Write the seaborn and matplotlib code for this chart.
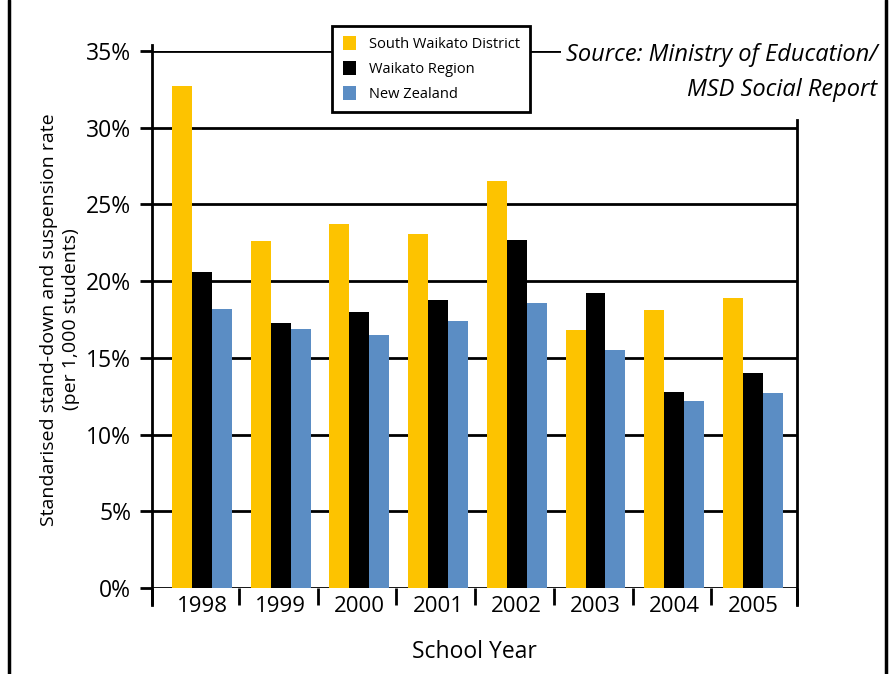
import matplotlib
matplotlib.use("Agg")
import matplotlib.pyplot as plt
import numpy as np
import pandas as pd
import seaborn as sns
from matplotlib.lines import Line2D
from matplotlib.patches import Patch

years = ["1998", "1999", "2000", "2001", "2002", "2003", "2004", "2005"]
series = ["South Waikato District", "Waikato Region", "New Zealand"]
south_waikato = [32.7, 22.6, 23.7, 23.1, 26.5, 16.8, 18.1, 18.9]
waikato_region = [20.6, 17.3, 18.0, 18.8, 22.7, 19.2, 12.8, 14.0]
new_zealand = [18.2, 16.9, 16.5, 17.4, 18.6, 15.5, 12.2, 12.7]
colors = ["#FDC300", "#000000", "#5B8DC4"]
yticks = [0, 5, 10, 15, 20, 25, 30, 35]

df = pd.DataFrame({
    "year": years * 3,
    "series": [s for s in series for _ in years],
    "rate": south_waikato + waikato_region + new_zealand,
})

sns.set_theme(style="white")
plt.rcParams["font.family"] = ["Open Sans", "DejaVu Sans"]
plt.rcParams["text.color"] = "black"
plt.rcParams["axes.labelcolor"] = "black"
plt.rcParams["xtick.color"] = "black"
plt.rcParams["ytick.color"] = "black"

fig = plt.figure(figsize=(8.93, 6.74), dpi=100)
ax = fig.add_axes([152 / 893, 1 - 588 / 674, (797 - 152) / 893, (588 - 51) / 674])

sns.barplot(data=df, x="year", y="rate", hue="series", hue_order=series,
            palette=colors, saturation=1, width=0.76, gap=0, ax=ax,
            legend=False, linewidth=0)

ax.set_xlim(-0.635, 7.56)
ax.set_ylim(0, 35)
ax.set_axisbelow(True)

# gridlines + left ticks
ax.set_yticks(yticks)
ax.set_yticklabels([f"{v}%" for v in yticks], fontsize=16.5)
ax.yaxis.grid(True, color="black", linewidth=2)
ax.tick_params(axis="y", direction="out", length=9, width=2, pad=6, left=True)

# year labels and separators
ax.set_xticks(range(len(years)))
ax.set_xticklabels(years, fontsize=16)
ax.tick_params(axis="x", which="major", length=0, pad=6)
ax.set_xticks([-0.635] + list(np.arange(0.47, 7, 1.0)) + [7.56], minor=True)
ax.tick_params(axis="x", which="minor", direction="out", length=12, width=2,
               bottom=True)

for side in ["top", "bottom"]:
    ax.spines[side].set_visible(False)
for side in ["left", "right"]:
    ax.spines[side].set_color("black")
    ax.spines[side].set_linewidth(2)
ax.spines["left"].set_bounds(-1.1, 35.4)
ax.spines["right"].set_bounds(-1.1, 30.5)

ax.set_xlabel("School Year", fontsize=16.5, labelpad=16)
ax.set_ylabel("Standarised stand-down and suspension rate\n(per 1,000 students)",
              fontsize=14, labelpad=4, linespacing=1.35)

handles = [Patch(facecolor=c, edgecolor="none") for c in colors]
leg = ax.legend(handles, series, loc="upper left",
                bbox_to_anchor=(325 / 893, 1 - 19 / 674),
                bbox_transform=fig.transFigure, fontsize=10.5, frameon=True,
                fancybox=False, handlelength=0.9, handleheight=1.1,
                handletextpad=0.9, labelspacing=0.6, borderpad=0.7)
leg.get_frame().set_edgecolor("black")
leg.get_frame().set_linewidth(2)
leg.get_frame().set_facecolor("white")
leg.get_frame().set_alpha(1)

fig.text(877 / 893, 1 - 55 / 674, "Source: Ministry of Education/", ha="right",
         va="center", style="italic", fontsize=17,
         bbox=dict(facecolor="white", edgecolor="none", pad=3))
fig.text(877 / 893, 1 - 90 / 674, "MSD Social Report", ha="right",
         va="center", style="italic", fontsize=17)

# outer frame
for x in [9 / 893, 886 / 893]:
    fig.add_artist(Line2D([x, x], [0, 1], transform=fig.transFigure,
                          color="black", linewidth=2.5))

fig.savefig("out.png", dpi=100)
